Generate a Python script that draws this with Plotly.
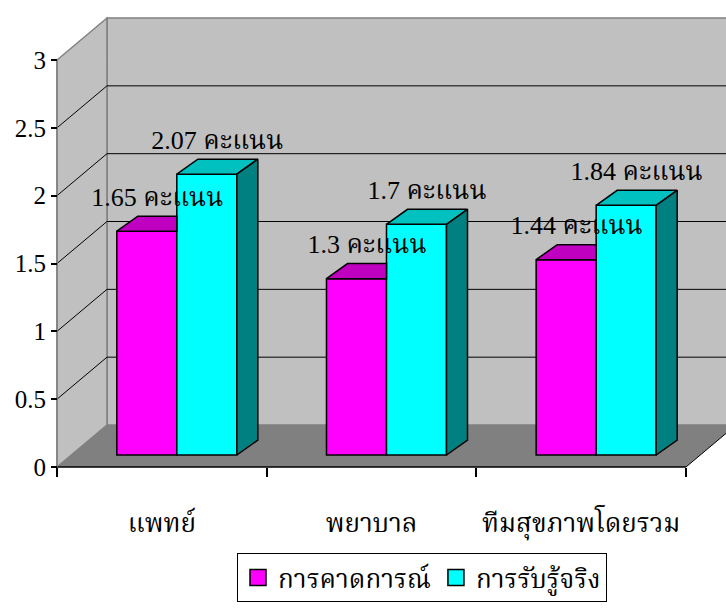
import plotly.graph_objects as go
import numpy as np

# ---- data ----
categories = ["แพทย์", "พยาบาล", "ทีมสุขภาพโดยรวม"]
series_names = ["การคาดการณ์", "การรับรู้จริง"]
expected = [1.65, 1.3, 1.44]
perceived = [2.07, 1.7, 1.84]
unit = "คะแนน"
y_ticks = [0, 0.5, 1, 1.5, 2, 2.5, 3]

# ---- styling / geometry constants ----
W, H = 726, 612
FONT = "Liberation Serif, Times New Roman, Noto Serif Thai, Noto Sans Thai, serif"
XLO, XHI = -0.27186, 3.19078
YLO, YHI = -1.0688, 3.4423
WALL_DX, WALL_DY = 0.2384, 0.3095     # depth of the walls (data units)
GROUP_SHIFT = 0.0715                  # bars sit a bit behind the front edge
BAR_W = 0.2862
BASE = 0.0885
DX, DY = 0.1002, 0.1106               # depth of the bars
LABEL_DY = 0.236

cols = {"front": ["#FF00FF", "#00FFFF"], "top": ["#C000C0", "#00C0C0"], "side": ["#800080", "#008080"]}
ymax = max(y_ticks)
ncat = len(categories)

fig = go.Figure()

# ---- walls, floor, gridlines (frame) ----
shapes = []
wall_col = "#C0C0C0"
edge_col = "#808080"
# back wall
shapes.append(dict(type="rect", xref="x", yref="y", layer="below",
                   x0=WALL_DX, y0=WALL_DY, x1=ncat + WALL_DX, y1=ymax + WALL_DY,
                   fillcolor=wall_col, line=dict(color=edge_col, width=1.5)))
# left wall
shapes.append(dict(type="path", xref="x", yref="y", layer="below",
                   path=f"M0,0 L{WALL_DX},{WALL_DY} L{WALL_DX},{ymax + WALL_DY} L0,{ymax} Z",
                   fillcolor=wall_col, line=dict(color=edge_col, width=1.5)))
# floor
shapes.append(dict(type="path", xref="x", yref="y", layer="below",
                   path=f"M0,0 L{ncat},0 L{ncat + WALL_DX},{WALL_DY} L{WALL_DX},{WALL_DY} Z",
                   fillcolor="#808080", line=dict(width=0)))
# gridlines
for t in y_ticks[1:-1]:
    shapes.append(dict(type="line", xref="x", yref="y", layer="below",
                       x0=WALL_DX, y0=t + WALL_DY, x1=ncat + WALL_DX, y1=t + WALL_DY,
                       line=dict(color="black", width=1)))
    shapes.append(dict(type="line", xref="x", yref="y", layer="below",
                       x0=0, y0=t, x1=WALL_DX, y1=t + WALL_DY,
                       line=dict(color="black", width=1)))
# front floor edge (x axis line) and right floor edge
shapes.append(dict(type="line", xref="x", yref="y", layer="below",
                   x0=0, y0=0, x1=ncat, y1=0, line=dict(color="black", width=1.5)))
shapes.append(dict(type="line", xref="x", yref="y", layer="below",
                   x0=ncat, y0=0, x1=ncat + WALL_DX, y1=WALL_DY, line=dict(color="black", width=1)))
# y axis line
shapes.append(dict(type="line", xref="x", yref="y", layer="below",
                   x0=0, y0=0, x1=0, y1=ymax, line=dict(color=edge_col, width=1.5)))

# ---- bars (front faces) ----
idx = np.arange(ncat) + 0.5 + GROUP_SHIFT
series = [expected, perceived]
xc = [idx - BAR_W / 2, idx + BAR_W / 2]
for s, vals in enumerate(series):
    fig.add_trace(go.Bar(x=xc[s], y=vals, base=BASE, width=BAR_W,
                         marker=dict(color=cols["front"][s], line=dict(color="black", width=1.5)),
                         showlegend=False, hoverinfo="skip"))

def poly_trace(xs, ys, fill):
    return go.Scatter(x=xs, y=ys, mode="lines", fill="toself", fillcolor=fill,
                      line=dict(color="black", width=1.5), showlegend=False,
                      hoverinfo="skip")

# magenta tops (clipped at cyan front, which hides the rest)
px, py = [], []
for i in range(ncat):
    x0 = xc[0][i] - BAR_W / 2
    x1 = xc[0][i] + BAR_W / 2
    t = BASE + expected[i]
    px += [x0, x1, x1, x0 + DX, x0, None]
    py += [t, t, t + DY, t + DY, t, None]
fig.add_trace(poly_trace(px, py, cols["top"][0]))

# cyan tops and sides
tx, ty, sx, sy = [], [], [], []
for i in range(ncat):
    x0 = xc[1][i] - BAR_W / 2
    x1 = xc[1][i] + BAR_W / 2
    t = BASE + perceived[i]
    tx += [x0, x1, x1 + DX, x0 + DX, x0, None]
    ty += [t, t, t + DY, t + DY, t, None]
    sx += [x1, x1 + DX, x1 + DX, x1, x1, None]
    sy += [BASE, BASE + DY, t + DY, t, BASE, None]
fig.add_trace(poly_trace(tx, ty, cols["top"][1]))
fig.add_trace(poly_trace(sx, sy, cols["side"][1]))

# ---- data labels ----
for s, vals in enumerate(series):
    fig.add_trace(go.Scatter(
        x=xc[s] + DX / 2, y=[BASE + v + LABEL_DY for v in vals],
        mode="text", text=[f"{v:g} {unit}" for v in vals],
        textposition="middle center",
        textfont=dict(family=FONT, size=26, color="black"),
        showlegend=False, hoverinfo="skip", cliponaxis=False))

# ---- legend entries ----
for s, name in enumerate(series_names):
    fig.add_trace(go.Scatter(x=[None], y=[None], mode="markers", name=name,
                             marker=dict(symbol="square", size=22, color=cols["front"][s],
                                         line=dict(color="black", width=1.5))))

fig.update_layout(
    width=W, height=H,
    margin=dict(l=0, r=0, t=0, b=0),
    paper_bgcolor="white", plot_bgcolor="white",
    shapes=shapes,
    barmode="overlay",
    xaxis=dict(range=[XLO, XHI], domain=[0, 1], anchor="free", position=(H - 467) / H,
               tickvals=list(np.arange(ncat) + 0.5), ticktext=categories,
               ticks="", showline=False, showgrid=False, zeroline=False,
               ticklabelstandoff=38,
               tickfont=dict(family=FONT, size=26, color="black"),
               minor=dict(tick0=0, dtick=1, ticks="outside", ticklen=9,
                          tickcolor="black", tickwidth=1.5, showgrid=False)),
    yaxis=dict(range=[YLO, YHI], domain=[0, 1], anchor="free", position=57 / W,
               tickvals=y_ticks, ticks="outside", ticklen=6, tickcolor="black", tickwidth=1.5,
               showline=False, showgrid=False, zeroline=False,
               tickfont=dict(family=FONT, size=25, color="black")),
    legend=dict(orientation="h", x=237 / W, y=(H - 553) / H, xanchor="left", yanchor="top",
                font=dict(family=FONT, size=26, color="black"),
                bgcolor="white", bordercolor="black", borderwidth=1),
    showlegend=True,
)

fig.write_html("out.html")
